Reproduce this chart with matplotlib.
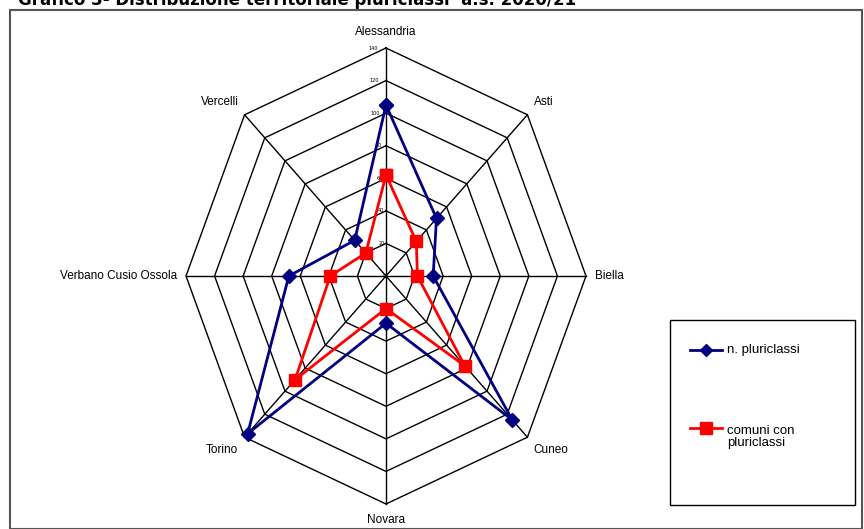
import matplotlib.pyplot as plt
import numpy as np
from matplotlib.lines import Line2D
from matplotlib.patches import Rectangle

categories = ["Alessandria", "Asti", "Biella", "Cuneo", "Novara", "Torino",
              "Verbano Cusio Ossola", "Vercelli"]
pluriclassi = [105, 50, 33, 125, 29, 137, 68, 31]
comuni = [62, 30, 22, 78, 20, 90, 39, 20]
ticks = [0, 20, 40, 60, 80, 100, 120, 140]

W, H = 864, 529
fig = plt.figure(figsize=(W / 100, H / 100), dpi=100)
plt.rcParams['font.family'] = ['DejaVu Sans']

# outer frame
fig.patches.append(Rectangle((10 / W, 0), (862 - 10) / W, (529 - 10) / H, transform=fig.transFigure,
                             fill=False, ec="#555555", lw=1.5))
fig.text(18 / W, 1.0, "Grafico 3- Distribuzione territoriale pluriclassi  a.s. 2020/21",
         fontsize=12, fontweight="bold", va="center", ha="left")

cx, cy, RX, RY = 386, 276, 200, 228
ax = fig.add_axes([(cx - RX) / W, (H - cy - RY) / H, 2 * RX / W, 2 * RY / H], projection="polar")
ax.set_aspect("auto")
ax.set_theta_zero_location("N")
ax.set_theta_direction(-1)
ax.set_ylim(0, 140)
ax.grid(False)
ax.spines["polar"].set_visible(False)
ax.set_xticks([])
ax.set_yticks([])
ax.patch.set_alpha(0)

n = len(categories)
theta = np.arange(n) * 2 * np.pi / n
tc = np.append(theta, theta[0])
for r in ticks[1:]:
    ax.plot(tc, [r] * (n + 1), color="black", lw=1, clip_on=False)
for t in theta:
    ax.plot([t, t], [0, 140], color="black", lw=1, clip_on=False)
for r in ticks:
    ax.text(-0.04, r, str(r), fontsize=3.5, ha="right", va="center")

for i, (t, lab) in enumerate(zip(theta, categories)):
    s, c = np.sin(t), np.cos(t)
    ha = "center" if abs(s) < 0.1 else ("left" if s > 0 else "right")
    va = "center" if abs(c) < 0.1 else ("bottom" if c > 0 else "top")
    ax.text(t, 146, lab, fontsize=8.5, ha=ha, va=va, family="Liberation Sans")

ax.plot(tc, pluriclassi + pluriclassi[:1], color="#000080", lw=2, marker="D", ms=7,
        clip_on=False, zorder=5)
ax.plot(tc, comuni + comuni[:1], color="red", lw=2, marker="s", ms=9,
        clip_on=False, zorder=5)

# legend box
fig.patches.append(Rectangle((670 / W, (H - 505) / H), 185 / W, 185 / H, transform=fig.transFigure,
                             fill=False, ec="black", lw=1))
fig.lines.append(Line2D([690 / W, 722 / W], [(H - 350) / H] * 2, transform=fig.transFigure,
                        color="#000080", lw=2))
fig.lines.append(Line2D([706 / W], [(H - 350) / H], transform=fig.transFigure,
                        color="#000080", marker="D", ms=6))
fig.text(727 / W, (H - 350) / H, "n. pluriclassi", fontsize=9.5, va="center",
         family="Liberation Sans")
fig.lines.append(Line2D([690 / W, 722 / W], [(H - 428) / H] * 2, transform=fig.transFigure,
                        color="red", lw=2))
fig.lines.append(Line2D([706 / W], [(H - 428) / H], transform=fig.transFigure,
                        color="red", marker="s", ms=8))
fig.text(727 / W, (H - 437) / H, "comuni con\npluriclassi", fontsize=9.5, va="center",
         family="Liberation Sans", linespacing=1.1)

fig.savefig("out.png", dpi=100)
